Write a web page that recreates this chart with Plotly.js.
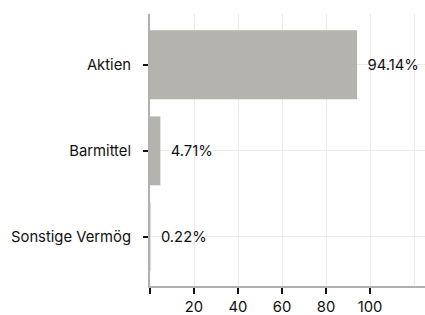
<!DOCTYPE html>
<html><head><meta charset="utf-8">
<script src="https://cdn.plot.ly/plotly-3.0.1.min.js"></script>
<style>html,body{margin:0;padding:0;background:#fff}</style>
</head><body><div id="chart" style="width:425px;height:315px"></div>
<script>
var categories = ["Aktien", "Barmittel", "Sonstige Vermög"];
var values = [94.14, 4.71, 0.22];
var labels = ["94.14%", "4.71%", "0.22%"];
var xTickVals = [0, 20, 40, 60, 80, 100];
var xTickText = ["", "20", "40", "60", "80", "100"];
var gridVals = [0, 20, 40, 60, 80, 100, 120];

var trace = {
  type: "bar", orientation: "h",
  x: values, y: categories,
  text: labels, texttemplate: "\u2002%{text}", textposition: "outside", cliponaxis: false,
  textfont: {family: "Inter, sans-serif", size: 14.8, color: "#111"},
  marker: {color: "#b4b3ae"},
  hoverinfo: "none"
};
var gridTrace = {type: "scatter", x: [], y: [], xaxis: "x2", yaxis: "y", showlegend: false};

var layout = {
  width: 425, height: 315,
  margin: {l: 150, r: 0, t: 14, b: 29},
  paper_bgcolor: "#fff", plot_bgcolor: "#fff",
  bargap: 0.2, showlegend: false,
  font: {family: "Inter, sans-serif", size: 14.8, color: "#111"},
  xaxis: {
    range: [0, 125], tickvals: xTickVals, ticktext: xTickText,
    ticks: "outside", ticklen: 6, tickwidth: 1.5, tickcolor: "#111",
    showgrid: false, zeroline: false,
    showline: true, linecolor: "#b0b0b0", linewidth: 2,
    tickfont: {size: 14.8, color: "#111"}, fixedrange: true
  },
  xaxis2: {
    overlaying: "x", range: [0, 125], tickvals: gridVals,
    showticklabels: false, ticks: "", showgrid: true, gridcolor: "#ebebeb", gridwidth: 1,
    zeroline: false, showline: false
  },
  yaxis: {
    type: "category", range: [2.57, -0.59],
    ticks: "outside", ticklen: 5, tickwidth: 2, tickcolor: "#111",
    showgrid: true, gridcolor: "#ebebeb", gridwidth: 1,
    showline: true, linecolor: "#b0b0b0", linewidth: 2,
    ticklabelstandoff: 9,
    tickfont: {size: 14.8, color: "#111"}, fixedrange: true
  }
};
Plotly.newPlot("chart", [gridTrace, trace], layout, {staticPlot: true, displayModeBar: false});
</script></body></html>
